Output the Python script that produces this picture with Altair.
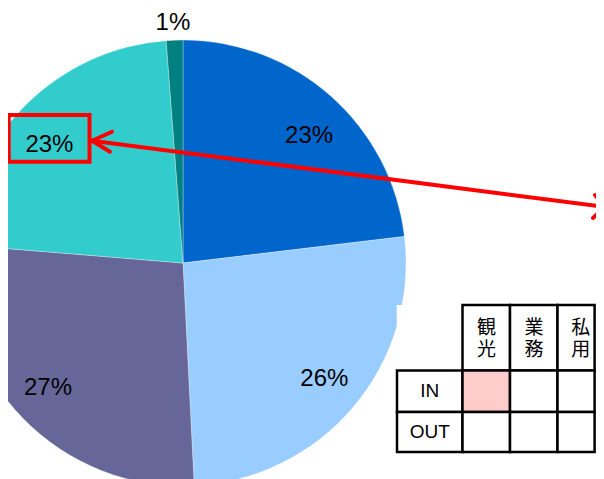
import altair as alt
import pandas as pd

# ---- chart values ----
categories = ["A", "B", "C", "D", "E"]
shares = [23.1, 26.1, 27.1, 22.5, 1.2]
labels = ["23%", "26%", "27%", "23%", "1%"]
colors = ["#0066CC", "#99CCFF", "#666699", "#33CCCC", "#008080"]

col_headers = ["観\n光", "業\n務", "私\n用"]
row_headers = ["IN", "OUT"]
highlight_cell = ("IN", 0)

# ---- layout (pixels in the drawing area) ----
W, H = 588, 471
CX, CY, R = 175, 255, 223
LABEL_R, OUT_R = 181, 240
label_nudge_x = [6, 3, -5, -6, -1]
label_nudge_y = [8, -1, -1, 10, 0]
col_x = [389, 454.5, 502, 549.5, 595.5]
row_y = [297, 362.5, 404, 444]
RIGHT_CLIP = W - 1.4

pie = pd.DataFrame({
    "idx": list(range(len(categories))),
    "cat": categories,
    "value": shares,
    "label": labels,
    "ndx": label_nudge_x,
    "ndy": label_nudge_y,
})

xs = alt.Scale(domain=[0, W], range=[0, W], nice=False, zero=False)
ys = alt.Scale(domain=[0, H], range=[0, H], nice=False, zero=False)

base = alt.Chart(pie)

arcs = base.mark_arc(outerRadius=R, stroke="white", strokeWidth=0.5, strokeOpacity=0.6).encode(
    theta=alt.Theta("value:Q", stack=True),
    color=alt.Color("cat:N", scale=alt.Scale(domain=categories, range=colors), legend=None),
    order=alt.Order("idx:Q"),
    x=alt.value(CX),
    y=alt.value(CY),
)

inner_text = base.mark_text(
    radius=LABEL_R, fontSize=24, font="Liberation Sans", color="black",
    dx=alt.expr("datum.ndx"), dy=alt.expr("datum.ndy"),
).encode(
    theta=alt.Theta("value:Q", stack=True),
    order=alt.Order("idx:Q"),
    text=alt.condition("datum.value >= 5", alt.Text("label:N"), alt.value("")),
    x=alt.value(CX),
    y=alt.value(CY),
)

outer_text = base.mark_text(
    radius=OUT_R, fontSize=24, font="Liberation Sans", color="black",
    dx=alt.expr("datum.ndx"), dy=alt.expr("datum.ndy"),
).encode(
    theta=alt.Theta("value:Q", stack=True),
    order=alt.Order("idx:Q"),
    text=alt.condition("datum.value < 5", alt.Text("label:N"), alt.value("")),
    x=alt.value(CX),
    y=alt.value(CY),
)

# red highlight box
box_df = pd.DataFrame({"x": [0.7], "x2": [81.5], "y": [107], "y2": [153.7]})
red_box = alt.Chart(box_df).mark_rect(fillOpacity=0, stroke="#FF0000", strokeWidth=4).encode(
    x=alt.X("x:Q", scale=xs, axis=None), x2="x2:Q",
    y=alt.Y("y:Q", scale=ys, axis=None), y2="y2:Q",
)

# double-headed arrow
arrow_df = pd.DataFrame({
    "x":  [84, 84, 84, 597, 597],
    "y":  [132.7, 132.7, 132.7, 199, 199],
    "x2": [597, 104, 102, 587, 585],
    "y2": [199, 123.7, 143.7, 187, 210],
})
arrow = alt.Chart(arrow_df).mark_rule(color="#FF0000", strokeWidth=4, strokeCap="round").encode(
    x=alt.X("x:Q", scale=xs, axis=None), x2="x2:Q",
    y=alt.Y("y:Q", scale=ys, axis=None), y2="y2:Q",
)

# table
bg_df = pd.DataFrame({"x": [col_x[0] - 0.3], "x2": [W + 2], "y": [row_y[0]], "y2": [row_y[-1] + 2]})
table_bg = alt.Chart(bg_df).mark_rect(fill="white").encode(
    x=alt.X("x:Q", scale=xs, axis=None), x2="x2:Q",
    y=alt.Y("y:Q", scale=ys, axis=None), y2="y2:Q",
)

def cx2(v):
    return min(v, RIGHT_CLIP)

cells = []
for c in range(len(col_headers)):
    cells.append({"x": col_x[c + 1], "x2": cx2(col_x[c + 2]), "y": row_y[0], "y2": row_y[1], "fill": "white"})
for r, rh in enumerate(row_headers):
    cells.append({"x": col_x[0], "x2": col_x[1], "y": row_y[r + 1], "y2": row_y[r + 2], "fill": "white"})
    for c in range(len(col_headers)):
        fill = "#FFCCCC" if (rh, c) == highlight_cell else "white"
        cells.append({"x": col_x[c + 1], "x2": cx2(col_x[c + 2]), "y": row_y[r + 1], "y2": row_y[r + 2], "fill": fill})
cells_df = pd.DataFrame(cells)
table_cells = alt.Chart(cells_df).mark_rect(stroke="black", strokeWidth=2.5).encode(
    x=alt.X("x:Q", scale=xs, axis=None), x2="x2:Q",
    y=alt.Y("y:Q", scale=ys, axis=None), y2="y2:Q",
    fill=alt.Fill("fill:N", scale=None),
)

head_df = pd.DataFrame({
    "x": [(col_x[c + 1] + col_x[c + 2]) / 2 + 0.3 for c in range(len(col_headers))],
    "y": [320] * len(col_headers),
    "t": col_headers,
})
head_text = alt.Chart(head_df).mark_text(
    font="Noto Sans CJK JP", fontSize=19, lineHeight=22, lineBreak="\n", color="black", baseline="middle"
).encode(
    x=alt.X("x:Q", scale=xs, axis=None),
    y=alt.Y("y:Q", scale=ys, axis=None),
    text="t:N",
)

rowh_df = pd.DataFrame({
    "x": [(col_x[0] + col_x[1]) / 2] * len(row_headers),
    "y": [(row_y[r + 1] + row_y[r + 2]) / 2 for r in range(len(row_headers))],
    "t": row_headers,
})
row_text = alt.Chart(rowh_df).mark_text(
    font="Liberation Sans", fontSize=19, color="black", baseline="middle"
).encode(
    x=alt.X("x:Q", scale=xs, axis=None),
    y=alt.Y("y:Q", scale=ys, axis=None),
    text="t:N",
)

chart = alt.layer(
    arcs, inner_text, outer_text, red_box, arrow, table_bg, table_cells, head_text, row_text
).properties(
    width=W, height=H, autosize=alt.AutoSizeParams(type="none"), padding=0, background="white"
).configure_view(stroke=None)

chart.save("out.html", embed_options={"renderer": "svg", "actions": False})
